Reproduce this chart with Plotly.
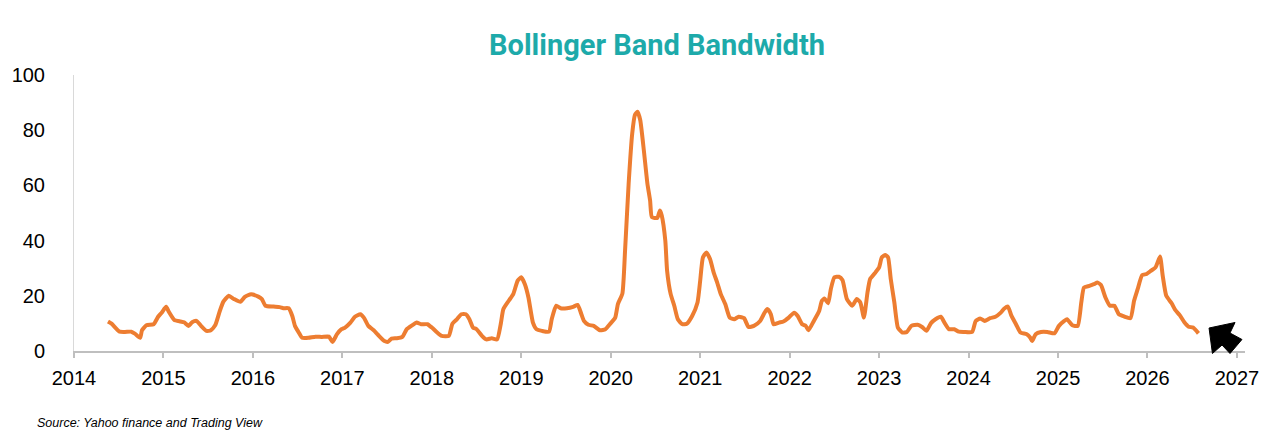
import plotly.graph_objects as go

# ======================== DATOS ===========================

# fechas en años decimales (lectura aproximada del gráfico)
fechas = [
    2014.38, 2014.42, 2014.51, 2014.57, 2014.64, 2014.68, 2014.74, 2014.76, 2014.81, 2014.89,
    2014.94, 2014.98, 2015.03, 2015.06, 2015.12, 2015.19, 2015.23, 2015.28, 2015.32, 2015.37,
    2015.42, 2015.48, 2015.53, 2015.58, 2015.63, 2015.67, 2015.73, 2015.79, 2015.86, 2015.91,
    2015.98, 2016.06, 2016.10, 2016.14, 2016.23, 2016.30, 2016.34, 2016.40, 2016.44, 2016.47,
    2016.52, 2016.55, 2016.62, 2016.70, 2016.77, 2016.85, 2016.89, 2016.94, 2016.99, 2017.03,
    2017.09, 2017.14, 2017.20, 2017.24, 2017.29, 2017.35, 2017.40, 2017.47, 2017.51, 2017.55,
    2017.61, 2017.67, 2017.72, 2017.78, 2017.83, 2017.88, 2017.95, 2018.00, 2018.06, 2018.11,
    2018.19, 2018.23, 2018.28, 2018.33, 2018.38, 2018.42, 2018.46, 2018.50, 2018.56, 2018.61,
    2018.67, 2018.73, 2018.77, 2018.80, 2018.86, 2018.91, 2018.96, 2019.00, 2019.04, 2019.08,
    2019.13, 2019.17, 2019.23, 2019.31, 2019.34, 2019.39, 2019.44, 2019.51, 2019.58, 2019.63,
    2019.67, 2019.70, 2019.75, 2019.81, 2019.88, 2019.94, 2019.99, 2020.05, 2020.08, 2020.13,
    2020.16, 2020.20, 2020.24, 2020.27, 2020.30, 2020.33, 2020.37, 2020.41, 2020.44, 2020.46,
    2020.52, 2020.55, 2020.57, 2020.61, 2020.63, 2020.67, 2020.71, 2020.75, 2020.80, 2020.85,
    2020.91, 2020.97, 2021.00, 2021.03, 2021.07, 2021.11, 2021.15, 2021.19, 2021.23, 2021.28,
    2021.33, 2021.38, 2021.43, 2021.49, 2021.54, 2021.60, 2021.67, 2021.72, 2021.75, 2021.79,
    2021.82, 2021.88, 2021.93, 2021.99, 2022.05, 2022.09, 2022.14, 2022.18, 2022.21, 2022.27,
    2022.33, 2022.36, 2022.39, 2022.43, 2022.46, 2022.50, 2022.55, 2022.59, 2022.64, 2022.70,
    2022.75, 2022.79, 2022.83, 2022.87, 2022.90, 2022.96, 2023.00, 2023.03, 2023.07, 2023.10,
    2023.13, 2023.17, 2023.21, 2023.26, 2023.31, 2023.36, 2023.43, 2023.48, 2023.53, 2023.58,
    2023.63, 2023.69, 2023.73, 2023.78, 2023.84, 2023.89, 2023.95, 2024.04, 2024.08, 2024.13,
    2024.18, 2024.24, 2024.30, 2024.36, 2024.40, 2024.44, 2024.48, 2024.53, 2024.58, 2024.65,
    2024.69, 2024.71, 2024.75, 2024.81, 2024.88, 2024.96, 2025.01, 2025.07, 2025.10, 2025.16,
    2025.22, 2025.26, 2025.29, 2025.35, 2025.40, 2025.44, 2025.48, 2025.53, 2025.58, 2025.63,
    2025.68, 2025.74, 2025.81, 2025.85, 2025.89, 2025.94, 2025.99, 2026.04, 2026.09, 2026.14,
    2026.17, 2026.21, 2026.27, 2026.31, 2026.36, 2026.41, 2026.46, 2026.51, 2026.57,
]

# ancho de banda de Bollinger
bandwidth = [
    10.7, 9.9, 7.0, 6.9, 7.0, 6.3, 4.8, 7.5, 9.3, 9.7,
    12.4, 13.9, 16.0, 14.2, 11.3, 10.7, 10.4, 9.1, 10.4, 10.9,
    9.1, 7.3, 7.5, 9.4, 14.5, 17.9, 20.0, 18.8, 17.8, 19.6,
    20.6, 19.7, 18.8, 16.4, 16.1, 15.9, 15.5, 15.5, 12.7, 9.1,
    6.3, 4.8, 4.8, 5.2, 5.1, 5.2, 3.3, 6.1, 7.9, 8.5,
    10.3, 12.4, 13.3, 12.1, 9.1, 7.5, 5.8, 3.6, 3.3, 4.5,
    4.6, 5.1, 7.9, 9.3, 10.3, 9.7, 9.7, 8.5, 6.7, 5.5,
    5.5, 9.9, 11.5, 13.3, 13.3, 11.5, 8.5, 7.9, 5.5, 4.2,
    4.6, 4.2, 9.7, 15.2, 18.2, 20.6, 25.5, 26.7, 24.2, 19.4,
    10.3, 7.9, 7.3, 7.0, 11.5, 16.4, 15.5, 15.5, 16.0, 16.7,
    13.5, 10.9, 9.5, 9.1, 7.5, 7.9, 9.7, 12.1, 17.0, 20.8,
    36.4, 60.6, 78.8, 85.5, 86.7, 83.6, 72.7, 60.6, 54.5, 48.5,
    48.2, 50.9, 49.1, 40.0, 29.1, 20.6, 16.4, 11.5, 9.7, 9.9,
    12.7, 17.6, 25.5, 33.9, 35.7, 33.3, 28.5, 24.8, 20.6, 17.0,
    12.1, 11.5, 12.4, 11.9, 8.7, 9.1, 10.9, 13.9, 15.2, 13.3,
    9.7, 10.3, 10.7, 12.1, 13.9, 12.7, 9.7, 9.1, 7.5, 10.9,
    14.5, 18.2, 19.0, 17.3, 22.4, 26.7, 26.9, 25.7, 18.8, 16.4,
    18.8, 17.6, 12.1, 21.2, 26.1, 28.5, 30.3, 33.9, 34.8, 33.9,
    26.1, 17.6, 8.5, 6.7, 6.9, 9.1, 9.5, 8.7, 7.3, 10.1,
    11.5, 12.4, 10.3, 7.9, 7.9, 7.0, 6.9, 6.9, 10.9, 11.8,
    10.9, 11.9, 12.4, 13.9, 15.4, 16.1, 12.7, 9.7, 6.7, 6.1,
    4.8, 3.6, 6.1, 6.9, 6.9, 6.4, 9.1, 10.9, 11.5, 9.3,
    9.1, 17.6, 23.0, 23.6, 24.2, 24.8, 23.9, 19.4, 16.4, 16.4,
    13.3, 12.5, 11.9, 18.2, 22.4, 27.5, 27.9, 29.1, 30.3, 34.2,
    27.3, 20.0, 17.3, 14.9, 13.0, 10.5, 8.8, 8.5, 6.4,
]

anios = list(range(2014, 2028))   # etiquetas del eje x
valores_y = [0, 20, 40, 60, 80, 100]  # etiquetas del eje y

# ======================== GRAFICO ===========================

fig = go.Figure()

fig.add_trace(go.Scatter(
    x=fechas,
    y=bandwidth,
    mode="lines",
    line=dict(color="#ED7D31", width=4, shape="spline", smoothing=0.5),
    showlegend=False,
    hoverinfo="x+y",
))

# flecha negra al final de la serie (pixeles de la ventana -> paper)
# el body del html tiene 8px de margen, por eso la figura mide 1272x431
def px(x, y):
    return (x - 74) / 1171, (351 - y) / 276

puntos_flecha = [(1209, 328), (1235, 322.5), (1230, 333), (1242, 339.5),
                 (1230, 353.5), (1222, 345), (1212.5, 353.5)]
ruta = "M " + " L ".join("%.4f,%.4f" % px(a, b) for a, b in puntos_flecha) + " Z"

fig.add_shape(type="path", path=ruta, xref="paper", yref="paper",
              fillcolor="black", line=dict(color="black", width=1))

fig.update_layout(
    width=1272,
    height=431,
    margin=dict(l=66, r=35, t=67, b=88),
    plot_bgcolor="white",
    paper_bgcolor="white",
    title=dict(
        text="<b>Bollinger Band Bandwidth</b>",
        font=dict(family="Roboto", size=29, color="#1DAAAA"),
        x=(657 - 8) / 1272,
        xanchor="center",
        y=1 - (45 - 8) / 431,
        yanchor="middle",
    ),
    font=dict(family="Liberation Sans, Arial", size=20, color="black"),
)

fig.update_xaxes(
    range=[2014, 2027.09],
    tickmode="array",
    tickvals=anios,
    ticktext=[str(a) for a in anios],
    showgrid=False,
    zeroline=False,
    showline=True,
    linecolor="#BFBFBF",
    linewidth=2,
    ticks="outside",
    ticklen=5,
    tickwidth=2,
    tickcolor="#BFBFBF",
    ticklabelstandoff=3,
    automargin=False,  # que no mueva los margenes
)

fig.update_yaxes(
    range=[0, 100],
    tickmode="array",
    tickvals=valores_y,
    showgrid=False,
    zeroline=False,
    showline=True,
    linecolor="#D9D9D9",
    linewidth=1,
    ticks="",
    ticklabelstandoff=24,
    automargin=False,
)

# fuente
fig.add_annotation(
    text="<i>Source: Yahoo finance and Trading View</i>",
    xref="paper", yref="paper",
    x=(35 - 74) / 1171, y=(351 - 423) / 276,
    xanchor="left", yanchor="middle",
    showarrow=False,
    font=dict(family="Liberation Sans, Arial", size=12.5, color="black"),
)

fig.write_html("out.html")
